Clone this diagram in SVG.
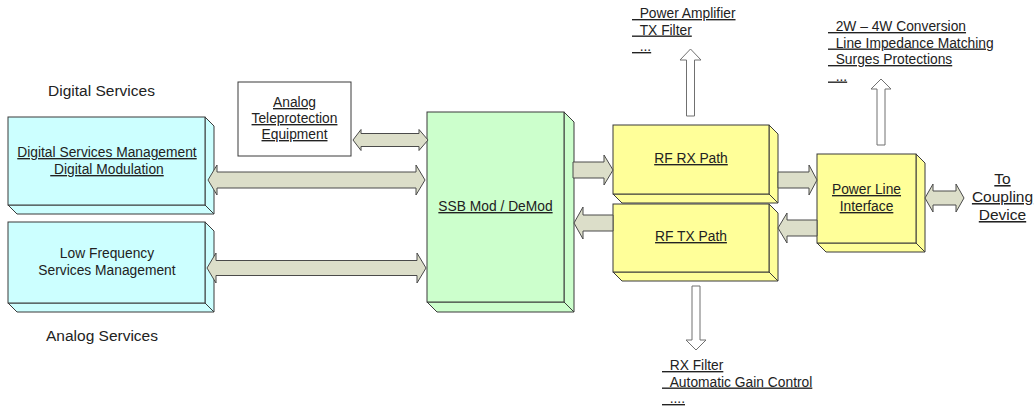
<svg xmlns="http://www.w3.org/2000/svg" width="1035" height="406" viewBox="0 0 1035 406">
<style>
text{font-family:"Liberation Sans",Arial,sans-serif;fill:#222;}
.t{font-size:13.8px;}
.l{font-size:15.5px;}
.m{text-anchor:middle;}
.u{text-decoration:underline;}
.box{stroke:#3a3a3a;stroke-width:1;stroke-linejoin:miter;}
.cy{fill:#ccffff;}
.gr{fill:#ccffcc;}
.ye{fill:#ffff99;}
.blk{fill:#dcdec9;stroke:#4a4a4a;stroke-width:1;}
.wht{fill:#ffffff;stroke:#707070;stroke-width:1;}
</style>
<rect width="1035" height="406" fill="#ffffff"/>

<g id="label-digital"><text class="l m" x="101.5" y="96">Digital Services</text></g>
<g id="label-analog"><text class="l m" x="102" y="341">Analog Services</text></g>

<g id="digital-services-management">
<polygon class="box cy" points="205,117 214,126 214,214 205,205"/>
<polygon class="box cy" points="8,205 17,214 214,214 205,205"/>
<rect class="box cy" x="8" y="117" width="197" height="88"/>
<text class="t m u" x="107" y="157">Digital Services Management</text>
<text class="t m u" x="107" y="174">&#160;Digital Modulation</text>
</g>

<g id="low-frequency-services">
<polygon class="box cy" points="205,222 214,231 214,312 205,303"/>
<polygon class="box cy" points="8,303 17,312 214,312 205,303"/>
<rect class="box cy" x="8" y="222" width="197" height="81"/>
<text class="t m" x="107" y="258">Low Frequency</text>
<text class="t m" x="107" y="275">Services Management</text>
</g>

<g id="analog-teleprotection">
<rect x="238" y="82" width="113" height="74" fill="#ffffff" stroke="#3a3a3a"/>
<text class="t m u" x="294.5" y="107">Analog</text>
<text class="t m u" x="294.5" y="123">Teleprotection</text>
<text class="t m u" x="294.5" y="139">Equipment</text>
</g>

<g id="ssb-mod-demod">
<polygon class="box gr" points="564,112 574,122 574,312 564,302"/>
<polygon class="box gr" points="427,302 437,312 574,312 564,302"/>
<rect class="box gr" x="427" y="112" width="137" height="190"/>
<text class="t m u" x="495.5" y="211">SSB Mod / DeMod</text>
</g>

<g id="rf-rx-path">
<polygon class="box ye" points="769,125 778,134 778,203 769,194"/>
<polygon class="box ye" points="613,194 622,203 778,203 769,194"/>
<rect class="box ye" x="613" y="125" width="156" height="69"/>
<text class="t m u" x="691" y="163">RF RX Path</text>
</g>

<g id="rf-tx-path">
<polygon class="box ye" points="769,204 778,213 778,281 769,272"/>
<polygon class="box ye" points="613,272 622,281 778,281 769,272"/>
<rect class="box ye" x="613" y="204" width="156" height="68"/>
<text class="t m u" x="691" y="241">RF TX Path</text>
</g>

<g id="power-line-interface">
<polygon class="box ye" points="916,154 925,163 925,252 916,243"/>
<polygon class="box ye" points="817,243 826,252 925,252 916,243"/>
<rect class="box ye" x="817" y="154" width="99" height="89"/>
<text class="t m u" x="866.5" y="194">Power Line</text>
<text class="t m u" x="866.5" y="211">Interface</text>
</g>

<g id="to-coupling-device">
<text class="l m u" x="1002.5" y="184">To</text>
<text class="l m u" x="1002.5" y="202">Coupling</text>
<text class="l m u" x="1002.5" y="220">Device</text>
</g>

<g id="tx-functions">
<text class="t u" x="632" y="18">&#160;&#160;Power Amplifier</text>
<text class="t u" x="632" y="34.5">&#160;&#160;TX Filter</text>
<text class="t u" x="632" y="51">&#160;&#160;...</text>
</g>

<g id="pli-functions">
<text class="t u" x="828" y="31">&#160;&#160;2W – 4W Conversion</text>
<text class="t u" x="828" y="47.5">&#160;&#160;Line Impedance Matching</text>
<text class="t u" x="828" y="64">&#160;&#160;Surges Protections</text>
<text class="t u" x="828" y="80.5">&#160;&#160;...</text>
</g>

<g id="rx-functions">
<text class="t u" x="662" y="370">&#160;&#160;RX Filter</text>
<text class="t u" x="662" y="386.5">&#160;&#160;Automatic Gain Control</text>
<text class="t u" x="662" y="403">&#160;&#160;....</text>
</g>

<g id="connectors">
<polygon class="blk" points="353,140 361,129.5 361,133.5 419,133.5 419,129.5 428,140 419,150.5 419,146.5 361,146.5 361,150.5"/>
<polygon class="blk" points="208,180 217,165 217,172 416,172 416,165 425,180 416,195 416,188 217,188 217,195"/>
<polygon class="blk" points="207,268 216,253 216,260.5 417,260.5 417,253 426,268 417,283 417,275.5 216,275.5 216,283"/>
<polygon class="blk" points="573,162 604,162 604,155 613,170 604,185 604,178 573,178"/>
<polygon class="blk" points="613,215 583,215 583,207 574,223 583,239 583,231 613,231"/>
<polygon class="blk" points="778,172 809,172 809,165 817,180 809,195 809,188 778,188"/>
<polygon class="blk" points="817,220 787,220 787,213 778,228 787,243 787,236 817,236"/>
<polygon class="blk" points="925,198 933,184 933,191 956,191 956,184 964,198 956,212 956,205 933,205 933,212"/>
<polygon class="wht" points="686.5,116 686.5,60 680,60 690.5,49 701,60 694.5,60 694.5,116"/>
<polygon class="wht" points="877,145 877,89 871,89 881,79 891,89 885,89 885,145"/>
<polygon class="wht" points="692,286 692,340 686,340 696,350 706,340 700,340 700,286"/>
</g>
</svg>
